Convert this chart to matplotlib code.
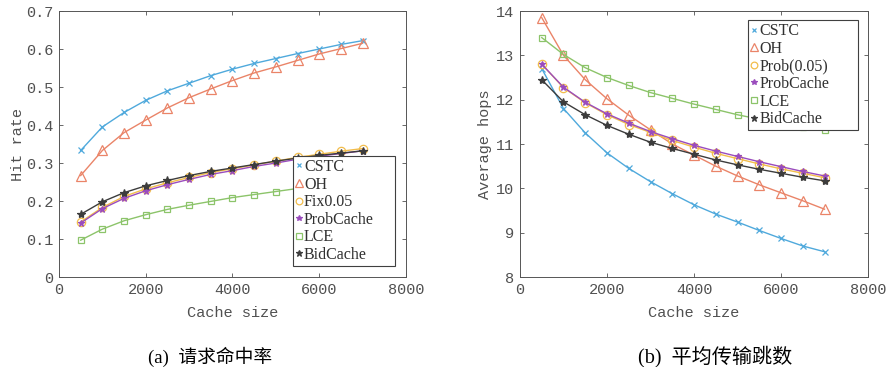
import matplotlib
matplotlib.use("Agg")
import matplotlib.pyplot as plt

# cache sizes (x axis)
cache_size = [500, 1000, 1500, 2000, 2500, 3000, 3500, 4000, 4500, 5000, 5500, 6000, 6500, 7000]

# (a) hit rate
hit_cstc = [0.333, 0.395, 0.433, 0.465, 0.490, 0.510, 0.530, 0.547, 0.562, 0.575, 0.588, 0.600, 0.612, 0.622]
hit_oh = [0.267, 0.333, 0.380, 0.413, 0.445, 0.472, 0.495, 0.517, 0.537, 0.553, 0.570, 0.587, 0.601, 0.615]
hit_fix = [0.145, 0.183, 0.212, 0.232, 0.248, 0.262, 0.275, 0.285, 0.295, 0.305, 0.315, 0.323, 0.331, 0.338]
hit_prob = [0.142, 0.180, 0.207, 0.227, 0.243, 0.257, 0.270, 0.280, 0.291, 0.300, 0.310, 0.318, 0.325, 0.332]
hit_lce = [0.097, 0.126, 0.148, 0.164, 0.178, 0.189, 0.199, 0.209, 0.217, 0.225, 0.233, 0.240, 0.246, 0.252]
hit_bid = [0.165, 0.198, 0.222, 0.240, 0.254, 0.267, 0.278, 0.287, 0.296, 0.305, 0.313, 0.320, 0.326, 0.332]

# (b) average hops
hop_cstc = [12.70, 11.80, 11.25, 10.80, 10.45, 10.15, 9.88, 9.63, 9.42, 9.24, 9.05, 8.87, 8.70, 8.57]
hop_oh = [13.85, 13.00, 12.45, 12.02, 11.65, 11.32, 11.00, 10.75, 10.50, 10.28, 10.08, 9.90, 9.72, 9.53]
hop_fix = [12.80, 12.27, 11.93, 11.66, 11.44, 11.26, 11.08, 10.93, 10.79, 10.67, 10.55, 10.44, 10.34, 10.24]
hop_prob = [12.80, 12.28, 11.94, 11.68, 11.47, 11.28, 11.12, 10.97, 10.84, 10.72, 10.60, 10.49, 10.38, 10.28]
hop_lce = [13.40, 13.02, 12.72, 12.50, 12.32, 12.16, 12.03, 11.90, 11.78, 11.66, 11.56, 11.47, 11.39, 11.31]
hop_bid = [12.45, 11.95, 11.66, 11.42, 11.22, 11.04, 10.90, 10.77, 10.64, 10.53, 10.43, 10.34, 10.25, 10.17]

labels_a = ["CSTC", "OH", "Fix0.05", "ProbCache", "LCE", "BidCache"]
labels_b = ["CSTC", "OH", "Prob(0.05)", "ProbCache", "LCE", "BidCache"]

colors = ["#4fa9dc", "#ea8468", "#f2bd4c", "#9a4cbd", "#8cc46a", "#3c3c3c"]
markers = ["x", "^", "o", "*", "s", "*"]
msizes = [4, 7, 6, 5, 5, 6]
filled = [True, False, False, True, False, True]

mono = "Liberation Mono"
serif = ["Liberation Serif", "Noto Sans CJK SC"]
tick_col = "#505050"

fig = plt.figure(figsize=(8.86, 3.67), dpi=100)
ax1 = fig.add_axes([0.0666, 0.2452, 0.3916, 0.7248])
ax2 = fig.add_axes([0.5869, 0.2452, 0.3928, 0.7248])


def draw(ax, series, labels):
    for i, ys in enumerate(series):
        mfc = colors[i] if filled[i] else "none"
        ax.plot(cache_size, ys, color=colors[i], marker=markers[i], markersize=msizes[i],
                markerfacecolor=mfc, markeredgecolor=colors[i], linewidth=1.0,
                markeredgewidth=0.9, label=labels[i])
    ax.set_xlim(0, 8000)
    ax.set_xticks([0, 2000, 4000, 6000, 8000])
    ax.tick_params(direction="in", top=True, right=True, length=3, width=0.6,
                   colors=tick_col, labelsize=11, pad=4)
    for lab in ax.get_xticklabels() + ax.get_yticklabels():
        lab.set_fontfamily(mono)
    for sp in ax.spines.values():
        sp.set_color("#555555")
        sp.set_linewidth(0.7)
    ax.set_xlabel("Cache size", fontfamily=mono, fontsize=11, color=tick_col, labelpad=7)


draw(ax1, [hit_cstc, hit_oh, hit_fix, hit_prob, hit_lce, hit_bid], labels_a)
ax1.set_ylim(0, 0.7)
ax1.set_yticks([0, 0.1, 0.2, 0.3, 0.4, 0.5, 0.6, 0.7])
ax1.set_yticklabels(["0", "0.1", "0.2", "0.3", "0.4", "0.5", "0.6", "0.7"], fontfamily=mono)
ax1.set_ylabel("Hit rate", fontfamily=mono, fontsize=11, color=tick_col, labelpad=1)

draw(ax2, [hop_cstc, hop_oh, hop_fix, hop_prob, hop_lce, hop_bid], labels_b)
ax2.set_ylim(8, 14)
ax2.set_yticks(range(8, 15))
ax2.set_ylabel("Average hops", fontfamily=mono, fontsize=11, color=tick_col, labelpad=3)

leg_kw = dict(handlelength=0.4, handletextpad=0.1, borderpad=0.2, labelspacing=0.1,
              fancybox=False, framealpha=1, edgecolor="#404040", markerscale=0.8,
              borderaxespad=0, mode="expand",
              prop={"family": "Liberation Serif", "size": 11.5})
leg1 = ax1.legend(loc="lower left", bbox_to_anchor=(0.674, 0.041, 0.294, 0.4), **leg_kw)
leg2 = ax2.legend(loc="upper left", bbox_to_anchor=(0.655, 0.566, 0.316, 0.4), **leg_kw)
for leg in (leg1, leg2):
    leg.get_frame().set_linewidth(0.8)
    for h in leg.legend_handles:
        h.set_linestyle("none")
    for t in leg.get_texts():
        t.set_color("#303030")

fig.text(0.237, 0.027, "(a)  请求命中率", ha="center", va="center", fontsize=13.5, family=serif)
fig.text(0.807, 0.027, "(b)  平均传输跳数", ha="center", va="center", fontsize=14.5, family=serif)

fig.savefig("out.png", dpi=100)
